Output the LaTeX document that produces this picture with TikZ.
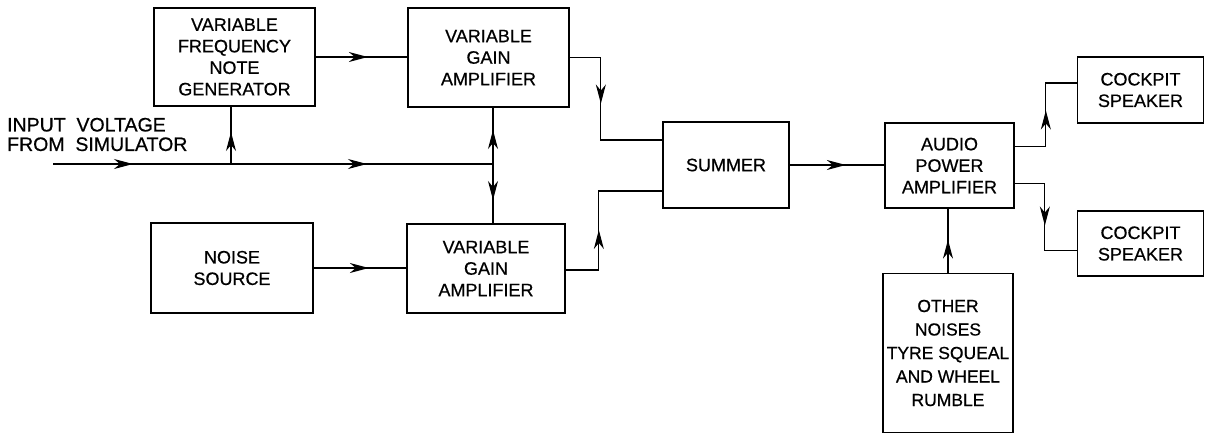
\documentclass[tikz,border=0pt]{standalone}
\usepackage{fontspec}
\setmainfont{Liberation Sans}[FakeBold=0.6]
\usetikzlibrary{arrows.meta,decorations.markings,calc}
\begin{document}
\begin{tikzpicture}[x=1pt,y=-1pt,
  box/.style={draw, line width=1.7pt, align=center, inner sep=0pt,
    font=\fontsize{18}{21.5}\selectfont},
  conn/.style={line width=1.2pt},
  tip/.tip={Stealth[length=19pt,width=10pt,inset=6pt]},
  arr/.style={postaction={decorate},decoration={markings,
    mark=at position #1 with {\arrow{tip}}}},
  arrb/.style 2 args={postaction={decorate},decoration={markings,
    mark=at position #1 with {\arrow{tip}},
    mark=at position #2 with {\arrow{tip}}}}]
\useasboundingbox (0,0) rectangle (1205,437);

\node[box, minimum width=161pt, minimum height=98pt] (ng) at (234.5,57) {VARIABLE\\FREQUENCY\\NOTE\\GENERATOR};
\node[box, minimum width=161pt, minimum height=99pt] (vga1) at (488.5,57.5) {VARIABLE\\GAIN\\AMPLIFIER};
\node[box, minimum width=158pt, minimum height=89pt] (vga2) at (486,268.5) {VARIABLE\\GAIN\\AMPLIFIER};
\node[box, minimum width=162pt, minimum height=90pt] (ns) at (232,268) {NOISE\\SOURCE};
\node[box, minimum width=126pt, minimum height=86pt] (sum) at (726,165) {SUMMER};
\node[box, minimum width=129pt, minimum height=85pt] (apa) at (949.5,165.5) {AUDIO\\POWER\\AMPLIFIER};
\node[box, minimum width=126pt, minimum height=66pt] (sp1) at (1140.5,90) {COCKPIT\\SPEAKER};
\node[box, minimum width=126pt, minimum height=65pt] (sp2) at (1140.5,243.5) {COCKPIT\\SPEAKER};
\node[box, minimum width=130pt, minimum height=159pt, font=\fontsize{17.5}{23.5}\selectfont] (oth) at (948,353) {OTHER\\NOISES\\TYRE SQUEAL\\AND WHEEL\\RUMBLE};

\node[anchor=west, align=left, inner sep=0pt, font=\fontsize{19.5}{19.5}\selectfont] (lbl) at (7,134.5) {INPUT\ \ VOLTAGE\\FROM\ \ SIMULATOR};

\coordinate (in) at (53,164);
\coordinate (jn) at (231,164);
\coordinate (j) at (493,164);

\draw[conn, arrb={80pt}{314pt}] (in) -- (j);
\draw[conn, arr=32pt] (jn) -- (jn |- ng.south);
\draw[conn, arr=34pt] (j) -- (j |- vga1.south);
\draw[conn, arr=36pt] (j) -- (j |- vga2.north);
\draw[conn, arr=52pt] (ng.east) -- (ng.east -| vga1.west);
\draw[conn, arr=55pt] (ns.east) -- (ns.east -| vga2.west);
\draw[conn, arr=77pt] (vga1.east) -- ++(31,0) |- ($(sum.west)+(0,-25)$);
\draw[conn, arr=73pt] ($(vga2.east)+(0,1.5)$) -- ++(33,0) |- ($(sum.west)+(0,26)$);
\draw[conn, arr=56pt] (sum.east) -- (sum.east -| apa.west);
\draw[conn, arr=67pt] ($(apa.east)+(0,-19)$) -- ++(31,0) |- ($(sp1.west)+(0,-7)$);
\draw[conn, arr=72pt] ($(apa.east)+(0,18)$) -- ++(30,0) |- ($(sp2.west)+(0,7)$);
\draw[conn, arr=33pt] (oth.north) -- (oth.north |- apa.south);
\end{tikzpicture}
\end{document}
